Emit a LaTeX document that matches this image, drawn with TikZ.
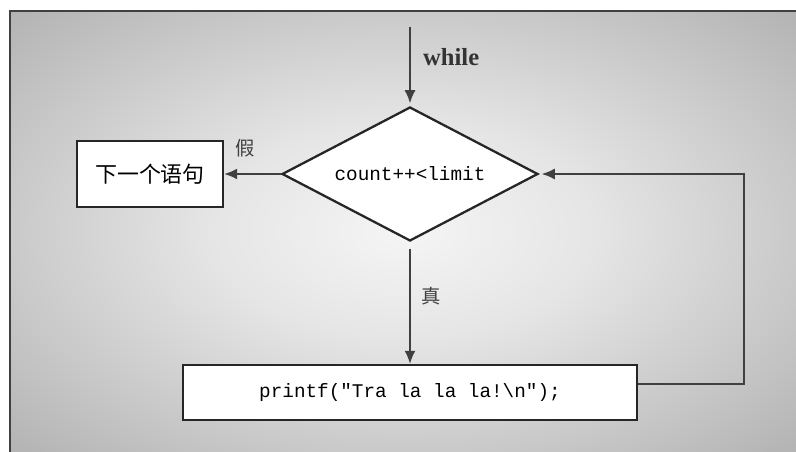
\documentclass[tikz,border=0pt]{standalone}
\usepackage{fontspec}
\setmainfont{Liberation Serif}
\setmonofont{Liberation Mono}
\newfontfamily\cjk{Noto Sans CJK SC}
\usetikzlibrary{arrows.meta,positioning,shapes.geometric}
\pgfdeclareradialshading{bgglow}{\pgfpoint{0bp}{0bp}}{color(0bp)=(black!4); color(12bp)=(black!10); color(38bp)=(black!32); color(50bp)=(black!37); color(72bp)=(black!40)}

\begin{document}
\begin{tikzpicture}[x=0.02cm,y=-0.02cm,
  box/.style={draw=black!85,line width=1.4pt,fill=white,inner sep=0pt},
  cond/.style={diamond,aspect=1.92,draw=black!85,line width=1.3pt,fill=white,inner sep=0pt,minimum width=5.12cm,minimum height=2.68cm},
  flow/.style={draw=black!75,line width=0.9pt,-{Latex[length=2.6mm,width=2.2mm]}},
  lbl/.style={font=\cjk\fontsize{11}{13}\selectfont,text=black!75}]
  \useasboundingbox (0,0) rectangle (796,452);
  \shade[shading=bgglow] (10,11) rectangle (796,452);
  \draw[black!75,line width=1.2pt] (796,11) -- (10,11) -- (10,452); % 枠は上と左だけ見える
  \node[cond] (test) at (410,174) {\ttfamily\fontsize{11}{13}\selectfont count++<limit};
  \node[box,minimum width=2.92cm,minimum height=1.32cm] (next) at (150,174) {\cjk\fontsize{12.5}{14}\selectfont 下一个语句};
  \node[box,minimum width=9.08cm,minimum height=1.1cm] (body) at (410,392.5) {\ttfamily\fontsize{11}{13}\selectfont printf("Tra la la la!\textbackslash n");};
  \node[font=\bfseries\fontsize{14}{16}\selectfont,text=black!80,anchor=west] (kw) at (417,57) {while};
  \node[lbl] (no) at (245,148) {假};
  \node[lbl] (yes) at (431,296) {真};
  \coordinate (start) at (410,27);
  \coordinate (turn) at (744,384);
  \draw[flow,shorten >=1.5pt] (start) -- (test.north);
  \draw[flow] (test.west) -- (next.east);
  \draw[flow,shorten <=4pt] (test.south) -- (body.north);
  \draw[flow,shorten >=1.5pt] (body.east |- turn) -- (turn) |- (test.east); % 戻りの線
\end{tikzpicture}
\end{document}
